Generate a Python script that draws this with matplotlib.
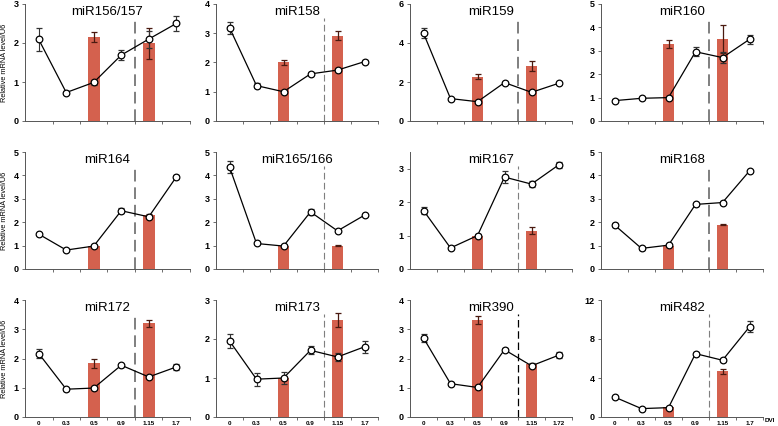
import matplotlib
matplotlib.use("Agg")
import matplotlib.pyplot as plt
import numpy as np

plt.rcParams['font.family'] = ['Liberation Sans', 'DejaVu Sans']

x_labels = ["0", "0.3", "0.5", "0.9", "1.15", "1.7"]
x_labels_390 = ["0", "0.3", "0.5", "0.9", "1.15", "1.72"]

titles = ["miR156/157", "miR158", "miR159", "miR160",
          "miR164", "miR165/166", "miR167", "miR168",
          "miR172", "miR173", "miR390", "miR482"]

line_vals = [
    [2.09, 0.73, 0.99, 1.69, 2.10, 2.50],
    [3.19, 1.21, 1.00, 1.61, 1.74, 2.03],
    [4.50, 1.15, 0.99, 1.97, 1.47, 1.93],
    [0.87, 0.97, 1.00, 2.96, 2.71, 3.49],
    [1.49, 0.81, 0.98, 2.49, 2.23, 3.93],
    [4.36, 1.09, 0.98, 2.44, 1.63, 2.30],
    [1.75, 0.63, 1.00, 2.75, 2.54, 3.11],
    [1.88, 0.88, 1.02, 2.76, 2.84, 4.19],
    [2.17, 0.95, 0.99, 1.77, 1.37, 1.71],
    [1.95, 0.97, 1.00, 1.71, 1.54, 1.80],
    [2.70, 1.14, 1.01, 2.30, 1.75, 2.11],
    [2.05, 0.86, 0.96, 6.50, 5.82, 9.25],
]
line_errs = [
    [0.30, 0.05, 0.07, 0.12, 0.22, 0.20],
    [0.20, 0.08, 0.05, 0.05, 0.07, 0.04],
    [0.25, 0.05, 0.05, 0.05, 0.05, 0.05],
    [0.05, 0.05, 0.05, 0.20, 0.25, 0.20],
    [0.05, 0.05, 0.05, 0.10, 0.05, 0.10],
    [0.25, 0.03, 0.03, 0.12, 0.03, 0.03],
    [0.10, 0.03, 0.05, 0.18, 0.10, 0.08],
    [0.08, 0.05, 0.05, 0.05, 0.08, 0.05],
    [0.15, 0.05, 0.05, 0.05, 0.05, 0.10],
    [0.17, 0.17, 0.15, 0.10, 0.10, 0.15],
    [0.15, 0.05, 0.05, 0.05, 0.05, 0.10],
    [0.10, 0.10, 0.10, 0.20, 0.20, 0.55],
]
bar_vals = [
    [2.15, 1.99], [2.00, 2.92], [2.27, 2.82], [3.29, 3.49],
    [1.00, 2.30], [1.00, 1.00], [1.00, 1.15], [1.00, 1.90],
    [1.83, 3.20], [1.00, 2.49], [3.32, 1.80], [1.00, 4.69],
]
bar_errs = [
    [0.13, 0.40], [0.08, 0.15], [0.12, 0.25], [0.18, 0.60],
    [0.00, 0.03], [0.00, 0.02], [0.00, 0.10], [0.00, 0.03],
    [0.17, 0.13], [0.00, 0.17], [0.13, 0.05], [0.00, 0.25],
]
y_max = [3, 4, 6, 5, 5, 5, 3.5, 5, 4, 3, 4, 12]
y_ticks = [[0, 1, 2, 3], [0, 1, 2, 3, 4], [0, 2, 4, 6], [0, 1, 2, 3, 4, 5],
           [0, 1, 2, 3, 4, 5], [0, 1, 2, 3, 4, 5], [0, 1, 2, 3], [0, 1, 2, 3, 4, 5],
           [0, 1, 2, 3, 4], [0, 1, 2, 3], [0, 1, 2, 3, 4], [0, 4, 8, 12]]
# dashed line style per panel: (color, width)
dash_styles = [("#7f7f7f", 1.4), ("#7f7f7f", 0.8), ("#7f7f7f", 1.4), ("#7f7f7f", 1.4),
               ("#7f7f7f", 1.4), ("#7f7f7f", 0.8), ("#7f7f7f", 0.8), ("#7f7f7f", 1.4),
               ("#7f7f7f", 1.4), ("#7f7f7f", 0.8), ("#000000", 0.9), ("#7f7f7f", 0.8)]

bar_idx = [2, 4]

W, H = 778, 426
fig = plt.figure(figsize=(W / 100, H / 100), dpi=100)
fig.patch.set_facecolor("white")

col_px = [(25, 190), (216, 378), (410, 572), (601, 763)]
row_px = [(4, 121), (152, 269), (300, 417)]

for i in range(12):
    r, c = divmod(i, 4)
    x0, x1 = col_px[c]
    yt, yb = row_px[r]
    ax = fig.add_axes([x0 / W, 1 - yb / H, (x1 - x0) / W, (yb - yt) / H])
    xs = np.arange(6)
    ax.bar([xs[j] for j in bar_idx], bar_vals[i], width=0.44, color="#d4614e",
           edgecolor="none", zorder=1)
    ax.errorbar([xs[j] for j in bar_idx], bar_vals[i], yerr=bar_errs[i], fmt="none",
                ecolor="#4a1a10", elinewidth=0.9, capsize=2.2, capthick=0.9, zorder=2)
    ax.axvline(3.5, ymin=0, ymax=0.88, color=dash_styles[i][0],
               lw=dash_styles[i][1], ls=(0, (6, 3)), zorder=0)
    ax.errorbar(xs, line_vals[i], yerr=line_errs[i], fmt="-o", color="black",
                lw=0.9, ms=4.8, mfc="white", mec="black", mew=0.9,
                ecolor="#333333", elinewidth=0.8, capsize=2.2, capthick=0.8, zorder=3)
    ax.set_xlim(-0.5, 5.5)
    ax.set_ylim(0, y_max[i])
    ax.set_yticks(y_ticks[i])
    ax.set_yticklabels([str(t) for t in y_ticks[i]], fontsize=6.5, fontweight="bold")
    ax.set_xticks(np.arange(0.5, 6, 1.0))
    ax.set_xticklabels([])
    ax.tick_params(axis="x", which="major", length=2.5, width=0.6, direction="out", color="#555555")
    ax.tick_params(axis="y", length=2.5, width=0.6, pad=2, color="#555555")
    if r == 2:
        ax.set_xticks(xs, minor=True)
        labs = x_labels_390 if titles[i] == "miR390" else x_labels
        ax.set_xticklabels(labs, minor=True, fontsize=4.5, fontweight="bold")
        ax.tick_params(axis="x", which="minor", length=0, pad=3)
    for s in ["top", "right"]:
        ax.spines[s].set_visible(False)
    for s in ["left", "bottom"]:
        ax.spines[s].set_linewidth(0.7)
        ax.spines[s].set_color("#555555")
    ax.text(0.5, 0.93, titles[i], transform=ax.transAxes, ha="center", va="center",
            fontsize=9.5)
    if c == 0:
        ax.text(-0.125, 0.5, "Relative mRNA level/U6", transform=ax.transAxes,
                rotation=90, ha="center", va="center", fontsize=5.3)

fig.text(770 / W, 1 - 421 / H, "DVI", ha="center", va="center", fontsize=4.5, fontweight="bold")

fig.savefig("out.png", dpi=100)
